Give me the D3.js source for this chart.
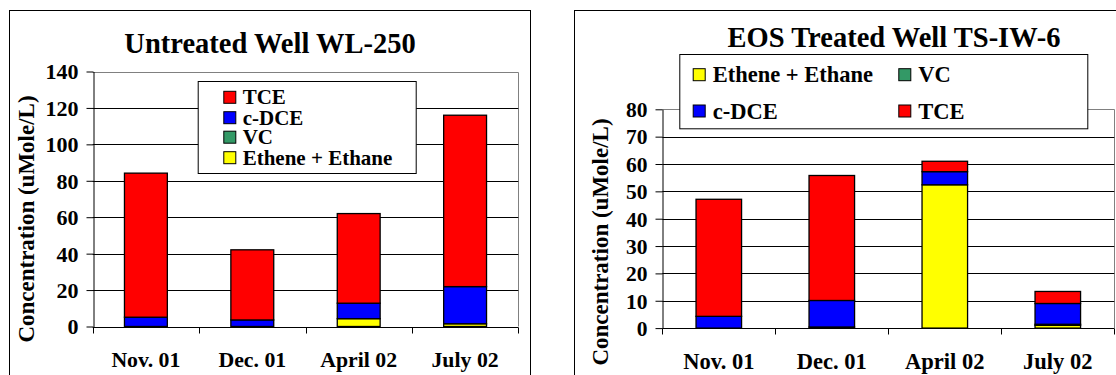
<!DOCTYPE html>
<html>
<head>
<meta charset="utf-8">
<script src="https://cdn.jsdelivr.net/npm/d3@7/dist/d3.min.js"></script>
</head>
<body style="margin:0;background:#fff">
<svg id="chart" width="1116" height="375" style="display:block"></svg>
<script>
// Sampling dates shared by both wells
const months = ["Nov. 01", "Dec. 01", "April 02", "July 02"];
// Stack order, bottom to top
const seriesNames = ["Ethene + Ethane", "VC", "c-DCE", "TCE"];
const seriesColors = ["#FFFF00", "#339966", "#0000FF", "#FF0000"];

// Untreated well WL-250 (uMole/L)
const wl250Ethene = [0, 0, 4.3, 1.5];
const wl250VC     = [0, 0, 0, 0];
const wl250cDCE   = [5.1, 3.6, 8.5, 20.4];
const wl250TCE    = [79.1, 38.5, 49.2, 94.1];
const wl250Ticks  = [0, 20, 40, 60, 80, 100, 120, 140];

// EOS treated well TS-IW-6 (uMole/L)
const ts6Ethene = [0, 0.4, 52.4, 1.0];
const ts6VC     = [0, 0, 0, 0.4];
const ts6cDCE   = [4.3, 9.7, 4.8, 7.6];
const ts6TCE    = [42.8, 45.7, 3.8, 4.4];
const ts6Ticks  = [0, 10, 20, 30, 40, 50, 60, 70, 80];

const svg = d3.select("#chart");

function rows(eth, vc, dce, tce) {
  return months.map((m, i) => ({
    month: m,
    "Ethene + Ethane": eth[i],
    "VC": vc[i],
    "c-DCE": dce[i],
    "TCE": tce[i]
  }));
}

// bold serif lettering used for every label
function label(sel) {
  return sel.style("font-family", '"Liberation Serif"')
    .style("font-weight", "bold")
    .style("fill", "#000");
}

function drawChart(cfg) {
  const g = svg.append("g");

  // outer chart frame (runs past the page edge)
  g.append("rect")
    .attr("x", cfg.frame[0] + 0.5).attr("y", cfg.frame[1] + 0.5)
    .attr("width", cfg.frame[2]).attr("height", cfg.frame[3])
    .attr("fill", "#fff").attr("stroke", "#000").attr("stroke-width", 1);

  const x = d3.scaleBand().domain(months)
    .range([cfg.left, cfg.right])
    .paddingInner(0.597).paddingOuter(0.2985);
  const y = d3.scaleLinear().domain([0, d3.max(cfg.ticks)])
    .range([cfg.bottom, cfg.top]);

  // plot area border (top and right)
  g.append("path")
    .attr("d", `M${cfg.left},${Math.round(y(d3.max(cfg.ticks))) + 0.5}H${Math.round(cfg.right) + 0.5}V${cfg.bottom}`)
    .attr("fill", "none").attr("stroke", "#808080").attr("stroke-width", 1);

  // horizontal gridlines
  g.selectAll("line.grid")
    .data(cfg.ticks.filter(t => t > 0 && t < d3.max(cfg.ticks)))
    .join("line").attr("class", "grid")
    .attr("x1", cfg.left).attr("x2", cfg.right)
    .attr("y1", d => Math.round(y(d)) + 0.5).attr("y2", d => Math.round(y(d)) + 0.5)
    .attr("stroke", "#000").attr("stroke-width", 1);

  // y axis
  const yAxis = g.append("g")
    .attr("transform", `translate(${Math.round(cfg.left) + 0.5},0)`)
    .call(d3.axisLeft(y).tickValues(cfg.ticks).tickSize(7).tickPadding(8).tickSizeOuter(0));
  yAxis.select(".domain").attr("stroke", "#000");
  yAxis.selectAll(".tick line").attr("stroke", "#000");
  yAxis.selectAll(".tick text")
    .attr("dy", "0.34em")
    .style("font-size", cfg.tickFont + "px")
    .call(label);

  // stacked bars
  const data = rows(...cfg.values);
  const stack = d3.stack().keys(seriesNames)(data);
  g.selectAll("g.layer").data(stack).join("g").attr("class", "layer")
    .attr("fill", (d, i) => seriesColors[i])
    .selectAll("rect")
    .data(d => d.filter(s => s[1] - s[0] > 0))
    .join("rect")
    .attr("x", d => x(d.data.month))
    .attr("y", d => y(d[1]))
    .attr("width", x.bandwidth())
    .attr("height", d => y(d[0]) - y(d[1]))
    .attr("stroke", "#000").attr("stroke-width", 1.3);

  // x axis line and category dividers
  const step = x.step();
  const bounds = d3.range(months.length + 1).map(i => cfg.left + i * step);
  const by = Math.round(cfg.bottom) + 0.5;
  g.append("line").attr("x1", cfg.left).attr("x2", cfg.right)
    .attr("y1", by).attr("y2", by).attr("stroke", "#000").attr("stroke-width", 1);
  g.selectAll("line.xtick").data(bounds).join("line").attr("class", "xtick")
    .attr("x1", d => Math.round(d) + 0.5).attr("x2", d => Math.round(d) + 0.5)
    .attr("y1", by).attr("y2", by + 6)
    .attr("stroke", "#000").attr("stroke-width", 1);

  g.selectAll("text.cat").data(months).join("text").attr("class", "cat")
    .attr("x", d => x(d) + x.bandwidth() / 2)
    .attr("y", cfg.bottom + cfg.catOffset)
    .attr("text-anchor", "middle")
    .style("font-size", cfg.catFont + "px")
    .call(label)
    .text(d => d);

  // axis title
  g.append("text")
    .attr("transform", `translate(${cfg.yTitle[0]},${cfg.yTitle[1]}) rotate(-90)`)
    .attr("text-anchor", "middle")
    .style("font-size", "23px")
    .call(label)
    .text("Concentration (uMole/L)");

  // chart title
  g.append("text")
    .attr("x", cfg.title[0]).attr("y", cfg.title[1])
    .attr("text-anchor", "middle")
    .style("font-size", "28.5px")
    .call(label)
    .text(cfg.titleText);

  // legend
  const L = cfg.legend;
  g.append("rect")
    .attr("x", L.box[0] + 0.5).attr("y", L.box[1] + 0.5)
    .attr("width", L.box[2]).attr("height", L.box[3])
    .attr("fill", "#fff").attr("stroke", "#000").attr("stroke-width", 1);
  const items = g.selectAll("g.legitem").data(L.order).join("g").attr("class", "legitem")
    .attr("transform", (d, i) => `translate(${L.pos[i][0]},${L.pos[i][1]})`);
  items.append("rect")
    .attr("x", 0.5).attr("y", -6)
    .attr("width", 12).attr("height", 12)
    .attr("fill", d => seriesColors[seriesNames.indexOf(d)])
    .attr("stroke", "#000").attr("stroke-width", 1);
  items.append("text")
    .attr("x", L.textGap).attr("y", L.font * 0.34)
    .style("font-size", L.font + "px")
    .call(label)
    .text(d => d);
}

drawChart({
  frame: [9, 10, 521, 420],
  left: 92.7, right: 518.3, top: 71.5, bottom: 326.5,
  ticks: wl250Ticks,
  values: [wl250Ethene, wl250VC, wl250cDCE, wl250TCE],
  tickFont: 22, catFont: 21.8, catOffset: 40.5,
  yTitle: [34, 219],
  title: [270, 53], titleText: "Untreated Well WL-250",
  legend: {
    box: [197.7, 81, 218, 92],
    order: ["TCE", "c-DCE", "VC", "Ethene + Ethane"],
    pos: [[223.3, 97.3], [223.3, 117.7], [223.3, 137.2], [223.3, 157.7]],
    textGap: 19.4, font: 21
  }
});

drawChart({
  frame: [574, 10, 640, 420],
  left: 662.3, right: 1114.3, top: 109.3, bottom: 328.1,
  ticks: ts6Ticks,
  values: [ts6Ethene, ts6VC, ts6cDCE, ts6TCE],
  tickFont: 21.5, catFont: 22.5, catOffset: 41,
  yTitle: [608, 242],
  title: [894, 46.7], titleText: "EOS Treated Well TS-IW-6",
  legend: {
    box: [679.3, 54, 408, 74.3],
    order: ["Ethene + Ethane", "VC", "c-DCE", "TCE"],
    pos: [[692.7, 74.7], [898.3, 74.7], [692.7, 111], [898.3, 111]],
    textGap: 20, font: 22.5
  }
});
</script>
</body>
</html>
